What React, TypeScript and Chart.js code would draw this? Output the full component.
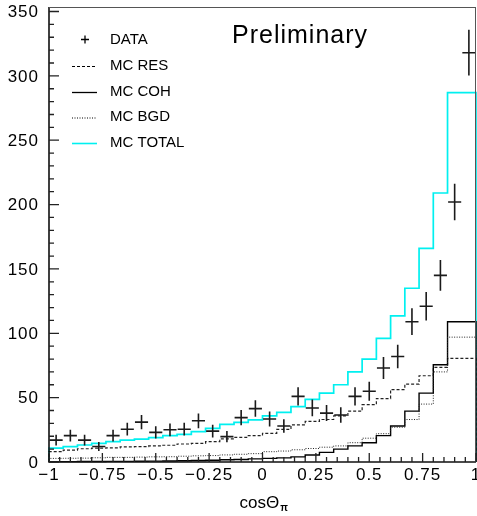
import { useEffect, useRef } from 'react';
import { Chart, registerables } from 'chart.js';
Chart.register(...registerables);

const XMIN = -1;
const XMAX = 1;
const NBINS = 30;
const YMAX = 353.5;

const dataCounts = [17, 20.5, 17, 12, 20.5, 25.5, 31, 23, 25, 25.5, 32, 24, 19.7, 34.5, 41.5, 33.4, 28, 51, 42, 38, 36.5, 51, 55, 73, 82, 109, 121, 145, 202, 318];
const dataErrors = [4.1, 4.5, 4.1, 3.5, 4.5, 5, 5.6, 4.8, 5, 5, 5.7, 4.9, 4.4, 5.9, 6.4, 5.8, 5.3, 7.1, 6.5, 6.2, 6, 7.1, 7.4, 8.5, 9.1, 10.4, 11, 12, 14.2, 17.8];
const mcRes = [7.3, 8, 9.3, 10.3, 10.8, 11, 11.8, 12, 12.5, 13, 14, 14.5, 15.8, 18, 19.2, 20.5, 22.3, 25.4, 28.8, 31.5, 33, 35.8, 39.5, 44.5, 49.3, 56.3, 60.5, 67, 73.5, 80.5];
const mcCoh = [0.3, 0.3, 0.3, 0.4, 0.4, 0.5, 0.5, 0.6, 0.7, 0.8, 1, 1.2, 1.4, 1.7, 2, 2.4, 2.8, 3.2, 4, 5.4, 7.5, 10, 12.5, 15, 20.5, 28, 39.5, 53.5, 75.5, 109];
const mcBgd = [2.8, 2.8, 2.9, 3, 3.3, 3.6, 3.6, 3.8, 4, 4.1, 4.5, 4.8, 5, 5.5, 6, 6.5, 8, 8.5, 9.5, 10.5, 11.5, 12.5, 15, 18.5, 22, 27, 33, 45, 70, 97];
const mcTotal = [10.5, 10.8, 12, 13.2, 14.5, 15.8, 17, 17.8, 19, 20.5, 21.5, 23.6, 26.2, 29.3, 30.8, 32.7, 35.8, 38.6, 43, 48.7, 53.5, 60, 70, 80, 96, 113.5, 135, 166, 209, 287];

const xTickValues = [-1, -0.75, -0.5, -0.25, 0, 0.25, 0.5, 0.75, 1];
const xTickLabels = ['\u22121', '\u22120.75', '\u22120.5', '\u22120.25', '0', '0.25', '0.5', '0.75', '1'];
const yTickValues = [0, 50, 100, 150, 200, 250, 300, 350];
const yTickLabels = ['0', '50', '100', '150', '200', '250', '300', '350'];
const legendLabels = ['DATA', 'MC RES', 'MC COH', 'MC BGD', 'MC TOTAL'];
const watermark = 'Preliminary';

const binWidth = (XMAX - XMIN) / NBINS;

function histPoints(values: number[]) {
  const pts: { x: number; y: number }[] = [{ x: XMIN, y: 0 }];
  values.forEach((v, i) => pts.push({ x: XMIN + i * binWidth, y: v }));
  pts.push({ x: XMAX, y: values[values.length - 1] });
  pts.push({ x: XMAX, y: 0 });
  return pts;
}

const FONT = '"Liberation Sans", Arial, sans-serif';

const rootPlugin = {
  id: 'rootStyle',
  afterDatasetsDraw(chart: any) {
    const { ctx, chartArea: a, scales } = chart;
    const xs = scales.x;
    const ys = scales.y;
    ctx.save();
    // data crosses
    ctx.strokeStyle = '#1a1a1a';
    ctx.lineWidth = 1.6;
    dataCounts.forEach((v, i) => {
      const c = XMIN + (i + 0.5) * binWidth;
      const xl = xs.getPixelForValue(c - binWidth * 0.46);
      const xr = xs.getPixelForValue(c + binWidth * 0.46);
      const xc = xs.getPixelForValue(c);
      const yc = ys.getPixelForValue(v);
      const yt = ys.getPixelForValue(v + dataErrors[i]);
      const yb = ys.getPixelForValue(v - dataErrors[i]);
      ctx.beginPath();
      ctx.moveTo(xl, yc);
      ctx.lineTo(xr, yc);
      ctx.moveTo(xc, yt);
      ctx.lineTo(xc, yb);
      ctx.stroke();
    });

    // frame / axes
    ctx.strokeStyle = '#111';
    ctx.lineWidth = 1.6;
    ctx.beginPath();
    ctx.moveTo(a.left, a.top);
    ctx.lineTo(a.left, a.bottom);
    ctx.lineTo(a.right, a.bottom);
    ctx.stroke();
    ctx.lineWidth = 1;
    ctx.strokeStyle = '#555';
    ctx.beginPath();
    ctx.moveTo(a.left, a.top + 0.5);
    ctx.lineTo(a.right, a.top + 0.5);
    ctx.moveTo(a.right - 0.5, a.top);
    ctx.lineTo(a.right - 0.5, a.bottom);
    ctx.stroke();

    // y ticks
    ctx.strokeStyle = '#222';
    ctx.lineWidth = 1.3;
    ctx.beginPath();
    for (let v = 0; v <= YMAX; v += 10) {
      const y = ys.getPixelForValue(v);
      const len = v % 50 === 0 ? 10 : 5;
      ctx.moveTo(a.left, y);
      ctx.lineTo(a.left + len, y);
    }
    // x ticks
    for (let k = 0; k <= 40; k++) {
      const v = XMIN + k * 0.05;
      const x = xs.getPixelForValue(v);
      const len = k % 5 === 0 ? 9 : 5;
      ctx.moveTo(x, a.bottom);
      ctx.lineTo(x, a.bottom - len);
    }
    ctx.stroke();

    // tick labels
    ctx.fillStyle = '#000';
    ctx.font = `17px ${FONT}`;
    (ctx as any).letterSpacing = '1px';
    ctx.textAlign = 'right';
    ctx.textBaseline = 'middle';
    yTickValues.forEach((v, i) => {
      ctx.fillText(yTickLabels[i], a.left - 10, ys.getPixelForValue(v) + 1);
    });
    ctx.textAlign = 'center';
    ctx.textBaseline = 'middle';
    xTickValues.forEach((v, i) => {
      ctx.fillText(xTickLabels[i], xs.getPixelForValue(v), a.bottom + 13);
    });
    (ctx as any).letterSpacing = '0px';

    // x title
    ctx.font = `17px ${FONT}`;
    ctx.textAlign = 'left';
    ctx.textBaseline = 'alphabetic';
    const title = 'cos\u0398';
    const tw = ctx.measureText(title).width;
    const tx = xs.getPixelForValue(0) - 23;
    ctx.fillText(title, tx, 508);
    ctx.font = `bold 10px ${FONT}`;
    ctx.fillText('\u03c0', tx + tw + 1, 511);

    // watermark
    ctx.font = `25px ${FONT}`;
    (ctx as any).letterSpacing = '1px';
    ctx.textBaseline = 'middle';
    ctx.fillText(watermark, 232, 36);
    (ctx as any).letterSpacing = '0px';

    // legend
    ctx.font = `15px ${FONT}`;
    ctx.textBaseline = 'middle';
    const ly = [39.5, 65.5, 91.5, 117, 142.5];
    legendLabels.forEach((lab, i) => {
      ctx.fillStyle = '#000';
      ctx.fillText(lab, 110, ly[i]);
    });
    // DATA marker
    ctx.strokeStyle = '#000';
    ctx.lineWidth = 1.3;
    ctx.beginPath();
    ctx.moveTo(81, ly[0]);
    ctx.lineTo(89, ly[0]);
    ctx.moveTo(85, ly[0] - 4);
    ctx.lineTo(85, ly[0] + 4);
    ctx.stroke();
    const samples = [
      { dash: [3, 2], color: '#000', w: 1 },
      { dash: [], color: '#000', w: 1.3 },
      { dash: [1, 1.5], color: '#000', w: 1 },
      { dash: [], color: '#00f0f0', w: 1.6 },
    ];
    samples.forEach((s, i) => {
      ctx.setLineDash(s.dash);
      ctx.strokeStyle = s.color;
      ctx.lineWidth = s.w;
      ctx.beginPath();
      ctx.moveTo(72, ly[i + 1] + 1);
      ctx.lineTo(97, ly[i + 1] + 1);
      ctx.stroke();
    });
    ctx.setLineDash([]);
    ctx.restore();
  },
};

export default function App() {
  const ref = useRef<HTMLCanvasElement>(null);
  useEffect(() => {
    if (!ref.current) return;
    const mk = (label: string, values: number[], color: string, w: number, dash: number[]) => ({
      type: 'line' as const,
      label,
      data: histPoints(values),
      borderColor: color,
      borderWidth: w,
      borderDash: dash,
      stepped: 'after' as const,
      pointRadius: 0,
      fill: false,
      clip: false as any,
    });
    const chart = new Chart(ref.current, {
      type: 'line',
      data: {
        datasets: [
          mk('MC BGD', mcBgd, '#222', 1, [1, 1.5]),
          mk('MC COH', mcCoh, '#000', 1.4, []),
          mk('MC RES', mcRes, '#222', 1.2, [3, 2]),
          mk('MC TOTAL', mcTotal, '#00f0f0', 1.7, []),
        ],
      },
      options: {
        responsive: false,
        animation: false,
        parsing: false as any,
        layout: { padding: { left: 49, right: 1, top: 7, bottom: 54 } },
        scales: {
          x: { type: 'linear', min: XMIN, max: XMAX, display: false },
          y: { type: 'linear', min: 0, max: YMAX, display: false },
        },
        plugins: { legend: { display: false }, tooltip: { enabled: false } },
      },
      plugins: [rootPlugin],
    });
    return () => chart.destroy();
  }, []);
  return (
    <div style={{ position: 'absolute', left: 0, top: 0, width: 477, height: 516, background: '#fff' }}>
      <canvas ref={ref} width={477} height={516} style={{ display: 'block', width: 477, height: 516 }} />
    </div>
  );
}
